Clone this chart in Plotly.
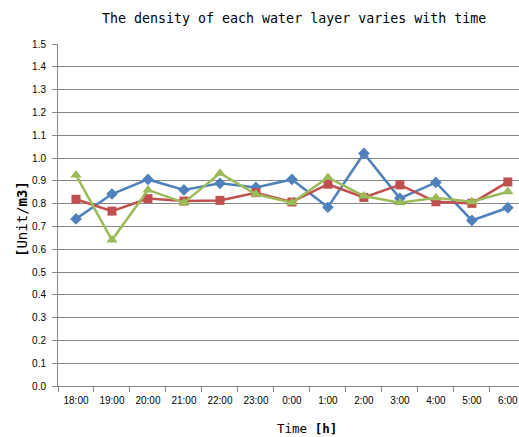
import plotly.graph_objects as go

times = ["18:00", "19:00", "20:00", "21:00", "22:00", "23:00", "0:00",
         "1:00", "2:00", "3:00", "4:00", "5:00", "6:00"]
series_blue = [0.733, 0.842, 0.906, 0.860, 0.889, 0.871, 0.906, 0.784, 1.020, 0.823, 0.893, 0.726, 0.782]
series_red = [0.819, 0.767, 0.822, 0.811, 0.814, 0.848, 0.807, 0.885, 0.827, 0.882, 0.808, 0.801, 0.895]
series_green = [0.925, 0.640, 0.860, 0.804, 0.933, 0.841, 0.804, 0.915, 0.833, 0.804, 0.826, 0.808, 0.852]
y_ticks = [round(i * 0.1, 1) for i in range(16)]

fig = go.Figure()
fig.add_trace(go.Scatter(x=times, y=series_blue, mode="lines+markers",
                         line=dict(color="#4F81BD", width=2.5),
                         marker=dict(symbol="diamond", size=9, color="#4F81BD")))
fig.add_trace(go.Scatter(x=times, y=series_red, mode="lines+markers",
                         line=dict(color="#C0504D", width=2.5),
                         marker=dict(symbol="square", size=9, color="#C0504D")))
fig.add_trace(go.Scatter(x=times, y=series_green, mode="lines+markers",
                         line=dict(color="#9BBB59", width=2.5),
                         marker=dict(symbol="triangle-up", size=10, color="#9BBB59")))

fig.update_layout(
    width=519, height=437,
    margin=dict(l=58, r=0, t=44, b=51, autoexpand=False),
    paper_bgcolor="white", plot_bgcolor="white",
    showlegend=False,
    font=dict(family="Liberation Sans", size=10, color="black"),
    annotations=[
        dict(text="The density of each water layer varies with time",
             xref="paper", yref="paper", x=(294 - 58) / 461, y=(386 - 19) / 342,
             xanchor="center", yanchor="middle", showarrow=False,
             font=dict(family="DejaVu Sans Mono", size=13.3, color="black")),
        dict(text="Time <b>[h]</b>",
             xref="paper", yref="paper", x=(307 - 58) / 461, y=-(428 - 386) / 342,
             xanchor="center", yanchor="middle", showarrow=False,
             font=dict(family="DejaVu Sans Mono", size=12.5, color="black")),
        dict(text="<b>[</b>Unit/<b>m3]</b>",
             xref="paper", yref="paper", x=-(58 - 22) / 461, y=(386 - 219) / 342,
             xanchor="center", yanchor="middle", showarrow=False, textangle=-90,
             font=dict(family="DejaVu Sans Mono", size=14, color="black")),
    ],
)
fig.update_xaxes(
    type="category", range=[-0.5, 12.31], automargin=False,
    showgrid=False, showline=True, linecolor="#868686", linewidth=1,
    ticks="outside", tickson="boundaries", ticklen=5, tickcolor="#868686",
    ticklabelstandoff=5,
    tickfont=dict(family="Liberation Sans", size=10),
)
fig.update_yaxes(
    range=[0, 1.5], tickvals=y_ticks, ticktext=[f"{v:.1f}" for v in y_ticks],
    automargin=False,
    showgrid=True, gridcolor="#868686", gridwidth=1,
    showline=True, linecolor="#868686", linewidth=1,
    ticks="outside", ticklen=5, tickcolor="#868686",
    ticklabelstandoff=4,
    zeroline=False,
    tickfont=dict(family="Liberation Sans", size=10),
)

fig.write_html("out.html", config={"displayModeBar": False},
               post_script="document.body.style.margin='0';document.body.style.overflow='hidden';")
